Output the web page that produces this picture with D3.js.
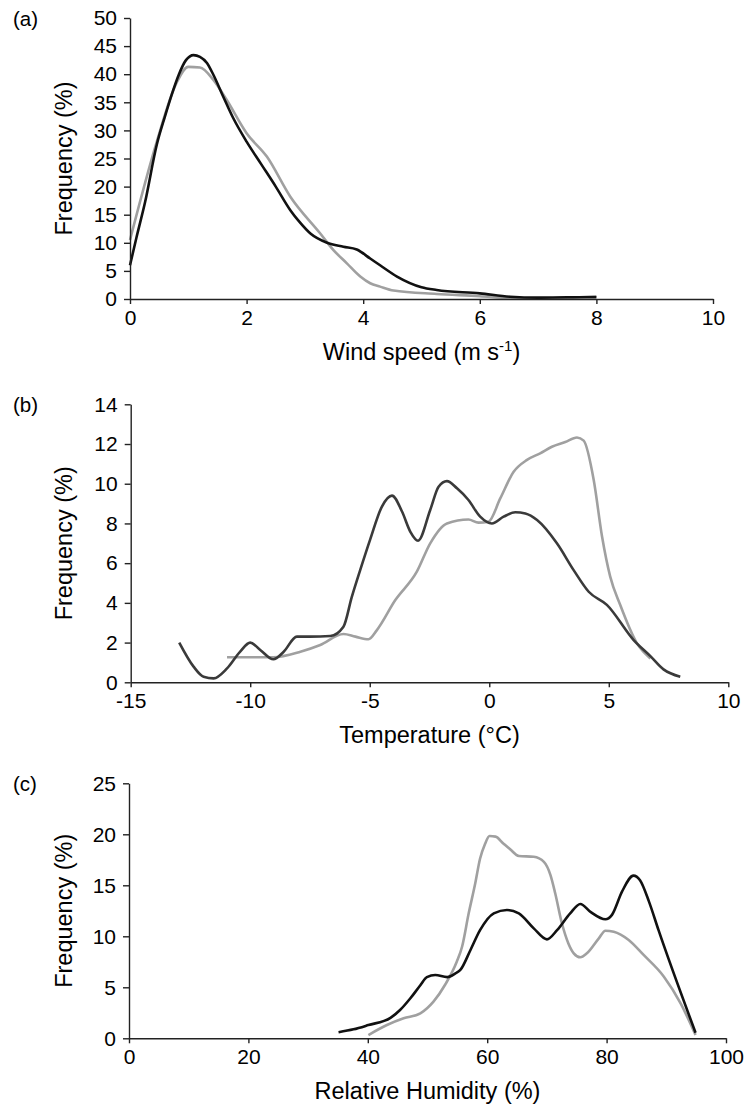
<!DOCTYPE html>
<html>
<head>
<meta charset="utf-8">
<script src="https://cdn.jsdelivr.net/npm/d3@7"></script>
<style>
  html, body { margin: 0; padding: 0; background: #fff; }
  svg { display: block; }
  text { font-family: "Liberation Sans", Arial, Helvetica, sans-serif; fill: #000; }
</style>
</head>
<body>
<svg id="chart" width="746" height="1106"></svg>
<script>
// ---------- Panel (a): wind speed ----------
const windXTicks = [0, 2, 4, 6, 8, 10];
const windYTicks = [0, 5, 10, 15, 20, 25, 30, 35, 40, 45, 50];
const windBlackX = [0, 0.11, 0.26, 0.46, 0.6, 0.72, 0.84, 0.96, 1.09, 1.2, 1.32, 1.43, 1.6, 1.77, 2.0, 2.25, 2.5, 2.75, 2.9, 3.1, 3.38, 3.66, 3.89, 4.12, 4.29, 4.58, 5.0, 5.26, 6.0, 6.52, 7.0, 7.5, 8.0];
const windBlackY = [6.0, 10.9, 17.3, 27.5, 32.5, 36.5, 40, 42.5, 43.4, 43.1, 42, 39.9, 36, 32.2, 28, 24, 20, 15.8, 13.8, 11.6, 10, 9.3, 8.8, 7.2, 6.0, 4.0, 2.1, 1.6, 1.0, 0.4, 0.25, 0.3, 0.3];
const windGrayX = [0, 0.46, 0.8, 1.0, 1.2, 1.43, 1.66, 2.0, 2.35, 2.75, 3.26, 3.49, 3.72, 3.95, 4.12, 4.29, 4.52, 5.26, 6.0, 6.5, 7.0, 7.5, 8.0];
const windGrayY = [10.5, 28, 38.5, 41.3, 41.2, 39, 35.4, 29.5, 25.3, 18.2, 11.7, 8.7, 6.35, 4.0, 2.8, 2.2, 1.5, 0.9, 0.5, 0.15, 0.05, 0.2, 0.5];

// ---------- Panel (b): temperature ----------
const tempXTicks = [-15, -10, -5, 0, 5, 10];
const tempYTicks = [0, 2, 4, 6, 8, 10, 12, 14];
const tempDarkX = [-12.97, -12.37, -11.95, -11.53, -10.97, -10.42, -10.0, -9.58, -9.03, -8.6, -8.05, -7.5, -6.65, -6.1, -5.75, -5.4, -4.98, -4.49, -4.07, -3.65, -3.3, -2.98, -2.47, -2.12, -1.77, -1.35, -0.87, -0.38, 0.11, 0.6, 1.09, 1.51, 2.0, 2.83, 3.53, 4.16, 4.92, 6.04, 6.74, 7.29, 7.99];
const tempDarkY = [2.0, 0.79, 0.28, 0.2, 0.7, 1.55, 2.0, 1.63, 1.16, 1.54, 2.3, 2.3, 2.33, 2.8, 4.3, 5.65, 7.2, 8.85, 9.4, 8.6, 7.58, 7.13, 8.68, 9.85, 10.13, 9.77, 9.18, 8.34, 8.0, 8.34, 8.56, 8.5, 8.17, 7.0, 5.65, 4.56, 3.9, 2.13, 1.32, 0.65, 0.28];
const tempGrayX = [-10.97, -9.03, -7.9, -7.07, -6.1, -5.6, -5.05, -4.7, -3.93, -3.03, -2.47, -1.77, -0.87, -0.45, -0.03, 0.46, 1.02, 1.58, 2.13, 2.62, 3.18, 3.67, 3.95, 4.37, 4.72, 5.06, 5.48, 6.18, 6.74];
const tempGrayY = [1.26, 1.26, 1.54, 1.88, 2.43, 2.3, 2.17, 2.63, 4.14, 5.57, 7.0, 8.0, 8.2, 8.04, 8.09, 9.26, 10.6, 11.2, 11.53, 11.86, 12.1, 12.33, 12.17, 10.19, 7.33, 5.32, 3.89, 1.96, 1.2];

// ---------- Panel (c): relative humidity ----------
const rhXTicks = [0, 20, 40, 60, 80, 100];
const rhYTicks = [0, 5, 10, 15, 20, 25];
const rhBlackX = [35.1, 37.6, 40.1, 43.8, 45.4, 47.1, 48.8, 49.9, 51.3, 53.3, 54.7, 55.5, 57.2, 58.8, 61.1, 63.3, 65.3, 67.8, 70.0, 71.7, 73.9, 75.6, 77.3, 79.8, 80.9, 82.6, 84.5, 85.6, 87.1, 88.7, 94.9];
const rhBlackY = [0.6, 0.88, 1.3, 2.0, 2.77, 3.9, 5.2, 6.0, 6.2, 6.0, 6.37, 6.7, 8.66, 10.6, 12.25, 12.58, 12.25, 10.78, 9.7, 10.6, 12.25, 13.17, 12.4, 11.67, 12.1, 14.4, 15.95, 15.5, 13.4, 10.6, 0.55];
const rhGrayX = [40.1, 43.2, 46.0, 48.8, 51.0, 53.0, 54.9, 55.8, 56.9, 58.0, 58.8, 59.6, 60.4, 61.4, 62.7, 63.9, 65.3, 67.8, 69.5, 70.6, 71.4, 72.5, 73.6, 74.5, 75.6, 76.7, 78.7, 79.8, 81.2, 83.7, 86.2, 89.6, 92.4, 94.9];
const rhGrayY = [0.32, 1.3, 1.96, 2.45, 3.6, 5.3, 7.5, 9.0, 12.25, 15.2, 17.6, 19.0, 19.83, 19.77, 19.1, 18.5, 17.87, 17.8, 17.3, 16.0, 14.2, 11.3, 9.3, 8.33, 7.94, 8.33, 9.8, 10.55, 10.45, 9.64, 8.17, 6.04, 3.43, 0.32];

const svg = d3.select("#chart");

const panels = [
  {
    tag: "(a)",
    xDomain: [0, 10], yDomain: [0, 50], xRange: [130, 713], yRange: [299, 18],
    xTicks: windXTicks, yTicks: windYTicks,
    xTitle: ["Wind speed (m s", "-1", ")"],
    series: [
      { x: windGrayX, y: windGrayY, color: "#a0a0a0" },
      { x: windBlackX, y: windBlackY, color: "#111111" }
    ]
  },
  {
    tag: "(b)",
    xDomain: [-15, 10], yDomain: [0, 14], xRange: [130.7, 728.3], yRange: [682.3, 404.3],
    xTicks: tempXTicks, yTicks: tempYTicks,
    xTitle: ["Temperature (°C)"],
    series: [
      { x: tempGrayX, y: tempGrayY, color: "#a0a0a0" },
      { x: tempDarkX, y: tempDarkY, color: "#3a3a3a" }
    ]
  },
  {
    tag: "(c)",
    xDomain: [0, 100], yDomain: [0, 25], xRange: [129, 726], yRange: [1038.3, 783.3],
    xTicks: rhXTicks, yTicks: rhYTicks,
    xTitle: ["Relative Humidity (%)"],
    series: [
      { x: rhGrayX, y: rhGrayY, color: "#a0a0a0" },
      { x: rhBlackX, y: rhBlackY, color: "#111111" }
    ]
  }
];

const fmt = v => String(v); // plain hyphen-minus like the reference

panels.forEach(p => {
  const x = d3.scaleLinear().domain(p.xDomain).range(p.xRange);
  const y = d3.scaleLinear().domain(p.yDomain).range(p.yRange);
  const g = svg.append("g");

  // curves
  const line = d3.line().x(d => x(d[0])).y(d => y(d[1])).curve(d3.curveMonotoneX);
  p.series.forEach(s => {
    const pts = s.x.map((v, i) => [v, s.y[i]]);
    g.append("path").datum(pts)
      .attr("d", line)
      .attr("fill", "none")
      .attr("stroke", s.color)
      .attr("stroke-width", 2.6)
      .attr("stroke-linejoin", "round")
      .attr("stroke-linecap", "butt");
  });

  // axes
  const xAxis = d3.axisBottom(x).tickValues(p.xTicks).tickFormat(fmt).tickSize(5).tickPadding(6).tickSizeOuter(0);
  const yAxis = d3.axisLeft(y).tickValues(p.yTicks).tickFormat(fmt).tickSize(6).tickPadding(7).tickSizeOuter(0);
  const gx = g.append("g").attr("transform", `translate(0,${p.yRange[0]})`).call(xAxis);
  const gy = g.append("g").attr("transform", `translate(${p.xRange[0]},0)`).call(yAxis);
  [gx, gy].forEach(a => {
    a.select(".domain").attr("stroke", "#222").attr("stroke-width", 1.4);
    a.selectAll(".tick line").attr("stroke", "#222").attr("stroke-width", 1.4);
    a.selectAll(".tick text")
      .style("font-family", '"Liberation Sans", Arial, sans-serif')
      .style("font-size", "21px")
      .attr("fill", "#000");
  });

  // panel tag
  svg.append("text").attr("x", 13).attr("y", p.yRange[1] + 8)
    .style("font-size", "20.5px").text(p.tag);

  // x title
  const cx = (p.xRange[0] + p.xRange[1]) / 2;
  const t = svg.append("text").attr("x", cx).attr("y", p.yRange[0] + 60.5)
    .attr("text-anchor", "middle").style("font-size", "23.5px");
  t.append("tspan").text(p.xTitle[0]);
  if (p.xTitle.length > 1) {
    t.append("tspan").attr("dy", -9).style("font-size", "15px").text(p.xTitle[1]);
    t.append("tspan").attr("dy", 9).text(p.xTitle[2]);
  }

  // y title
  const cy = (p.yRange[0] + p.yRange[1]) / 2;
  svg.append("text")
    .attr("transform", `translate(72,${cy}) rotate(-90)`)
    .attr("text-anchor", "middle")
    .style("font-size", "23.5px")
    .text("Frequency (%)");
});
</script>
</body>
</html>
